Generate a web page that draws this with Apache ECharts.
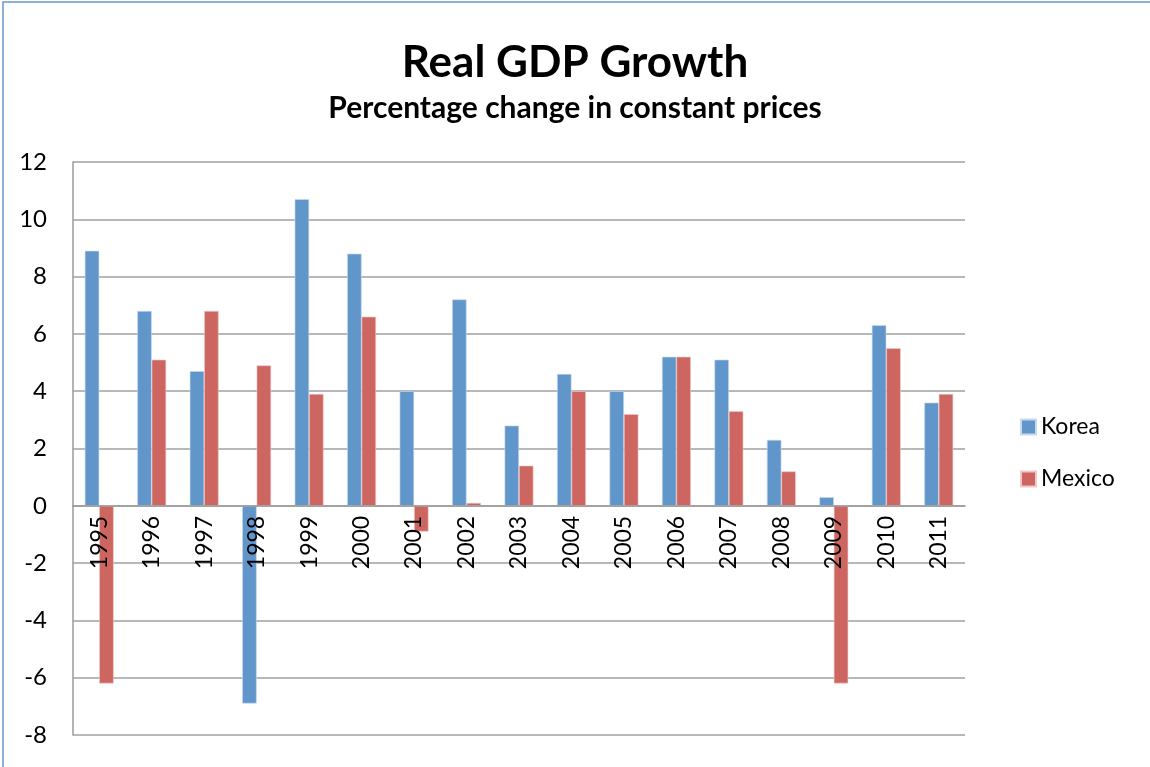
<!DOCTYPE html>
<html>
<head>
<meta charset="utf-8">
<title>Real GDP Growth</title>
<script src="https://cdn.jsdelivr.net/npm/echarts@6/dist/echarts.min.js"></script>
<style>
  html, body { margin: 0; padding: 0; background: #fff; }
  #chart { width: 1150px; height: 767px; }
</style>
</head>
<body>
<div id="chart"></div>
<script>
  // data
  var years = ['1995', '1996', '1997', '1998', '1999', '2000', '2001', '2002', '2003',
    '2004', '2005', '2006', '2007', '2008', '2009', '2010', '2011'];
  var korea = [8.9, 6.8, 4.7, -6.9, 10.7, 8.8, 4.0, 7.2, 2.8, 4.6, 4.0, 5.2, 5.1, 2.3, 0.3, 6.3, 3.6];
  var mexico = [-6.2, 5.1, 6.8, 4.9, 3.9, 6.6, -0.9, 0.1, 1.4, 4.0, 3.2, 5.2, 3.3, 1.2, -6.2, 5.5, 3.9];
  var seriesNames = ['Korea', 'Mexico'];

  var yMin = -8, yMax = 12;
  var gridTop = 162, gridBottom = 32, chartH = 767;
  // the category axis sits on the zero line, move it up from the bottom edge
  var plotH = chartH - gridTop - gridBottom;
  var zeroOffset = -plotH * (0 - yMin) / (yMax - yMin);

  var font = 'Lato, "Open Sans", "Liberation Sans", sans-serif';
  var myChart = echarts.init(document.getElementById('chart'));

  var option = {
    backgroundColor: '#fff',
    textStyle: { fontFamily: font },
    title: [{
      text: 'Real GDP Growth',
      left: 'center',
      top: 36,
      textStyle: { fontFamily: font, fontSize: 44, fontWeight: 'bold', color: '#000' }
    }, {
      text: 'Percentage change in constant prices',
      left: 'center',
      top: 88,
      textStyle: { fontFamily: font, fontSize: 30, fontWeight: 'bold', color: '#000' }
    }],
    legend: {
      orient: 'vertical',
      left: 1015,
      top: 410,
      itemWidth: 15,
      itemHeight: 15,
      itemGap: 28,
      icon: 'rect',
      data: seriesNames,
      textStyle: { fontFamily: font, fontSize: 23, color: '#000', lineHeight: 24 }
    },
    graphic: [{
      type: 'rect',
      shape: { x: 3, y: 2, width: 1160, height: 780 },
      style: { fill: 'none', stroke: '#6a96c8', lineWidth: 1.5 },
      silent: true
    }],
    grid: { left: 73, right: 185, top: gridTop, bottom: gridBottom, outerBoundsMode: 'none' },
    xAxis: {
      type: 'category',
      data: years,
      position: 'bottom',
      offset: zeroOffset,
      z: 5,  // labels are drawn over the bars
      axisLine: { onZero: false, lineStyle: { color: '#9a9a9a', width: 1.5 } },
      axisTick: { show: false },
      axisLabel: {
        rotate: 90,
        margin: 10,
        color: '#000',
        fontFamily: font,
        fontSize: 23
      }
    },
    yAxis: {
      type: 'value',
      min: yMin,
      max: yMax,
      interval: 2,
      axisLine: { show: true, lineStyle: { color: '#9a9a9a', width: 1.5 } },
      axisTick: { show: false },
      axisLabel: { color: '#000', fontFamily: font, fontSize: 24, margin: 26 },
      splitLine: { lineStyle: { color: '#a0a0a0', width: 1.5 } }
    },
    series: [{
      name: seriesNames[0],
      type: 'bar',
      data: korea,
      barGap: 0,
      barCategoryGap: '45%',
      itemStyle: { color: '#6196cb', borderColor: '#c8daee', borderWidth: 0.6 }
    }, {
      name: seriesNames[1],
      type: 'bar',
      data: mexico,
      barGap: 0,
      barCategoryGap: '45%',
      itemStyle: { color: '#cd6660', borderColor: '#eec9c7', borderWidth: 0.6 }
    }]
  };

  myChart.setOption(option);
</script>
</body>
</html>
